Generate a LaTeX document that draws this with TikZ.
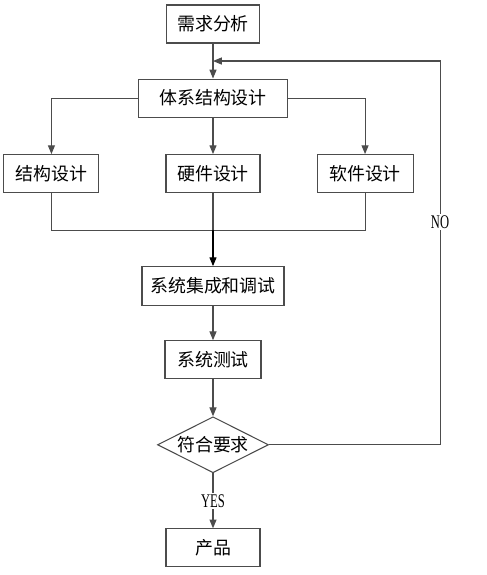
\documentclass[tikz,border=0pt]{standalone}
\usepackage{fontspec}
\setmainfont{Noto Sans CJK SC}
\newfontfamily\latfont[FakeStretch=0.65]{Liberation Serif}
\usepackage{tikz}
\usetikzlibrary{positioning}
\usetikzlibrary{arrows.meta}
\usetikzlibrary{shapes,calc}
\tikzset{box node/.style={rectangle,draw=black!70,fill=white,minimum height=0.76cm,inner sep=0pt,font=\fontsize{10.2}{12}\selectfont},
  check node/.style={diamond,draw=black!70,aspect=2,inner sep=0pt,minimum width=2.22cm,minimum height=1.12cm,font=\fontsize{10.2}{12}\selectfont},
  tag node/.style={fill=white,inner sep=1pt,font=\latfont\fontsize{11}{12}\selectfont},}

\begin{document}
\begin{tikzpicture}[node distance=0.75cm,line width=0.6pt,draw=black!70,>={Triangle[length=5pt,width=4pt]}]
    \useasboundingbox (-4.26,0.48) rectangle (5.48,-11.02);
    \node[box node,minimum width=1.86cm] (req) at (0,0) {需求分析};
    \node[box node,minimum width=2.98cm] (arch) [below = 0.70cm of req] {体系结构设计};
    \node[box node,minimum width=1.88cm] (hw) [below = 0.73cm of arch] {硬件设计};
    \node[box node,minimum width=1.90cm] (struct) [left = 1.32cm of hw] {结构设计};
    \node[box node,minimum width=1.92cm] (sw) [right = 1.12cm of hw] {软件设计};
    \node[box node,minimum width=2.84cm,minimum height=0.78cm] (integ) [below = 1.46cm of hw] {系统集成和调试};
    \node[box node,minimum width=1.92cm] (test) [below = 0.68cm of integ] {系统测试};
    \node[check node] (check) [below = 0.74cm of test] {符合要求};
    \node[box node,minimum width=1.88cm] (prod) [below = 1.10cm of check] {产品};

    \coordinate (fb) at ($(req.south)!0.5!(arch.north)$);
    \coordinate (merge) at ($(hw.south)+(0,-0.74)$);
    \coordinate (fbr) at ($(check.east)+(3.42,0)$);

    \draw[->] (req) -- (arch);
    \draw[->] (arch.west) -| (struct);
    \draw[->] (arch) -- (hw);
    \draw[->] (arch.east) -| (sw);
    \draw (struct) |- (merge) -| (sw);
    \draw (hw) -- (merge);
    \draw[->,draw=black] (merge) -- (integ);
    \draw[->] (integ) -- (test);
    \draw[->] (test) -- (check);
    \draw[->] (check) -- node[tag node,pos=0.5] {YES} (prod);
    \draw[->] (check.east) -- (fbr) -- node[tag node,pos=0.58] {NO} (fbr |- fb) -- (fb);
\end{tikzpicture}
\end{document}
